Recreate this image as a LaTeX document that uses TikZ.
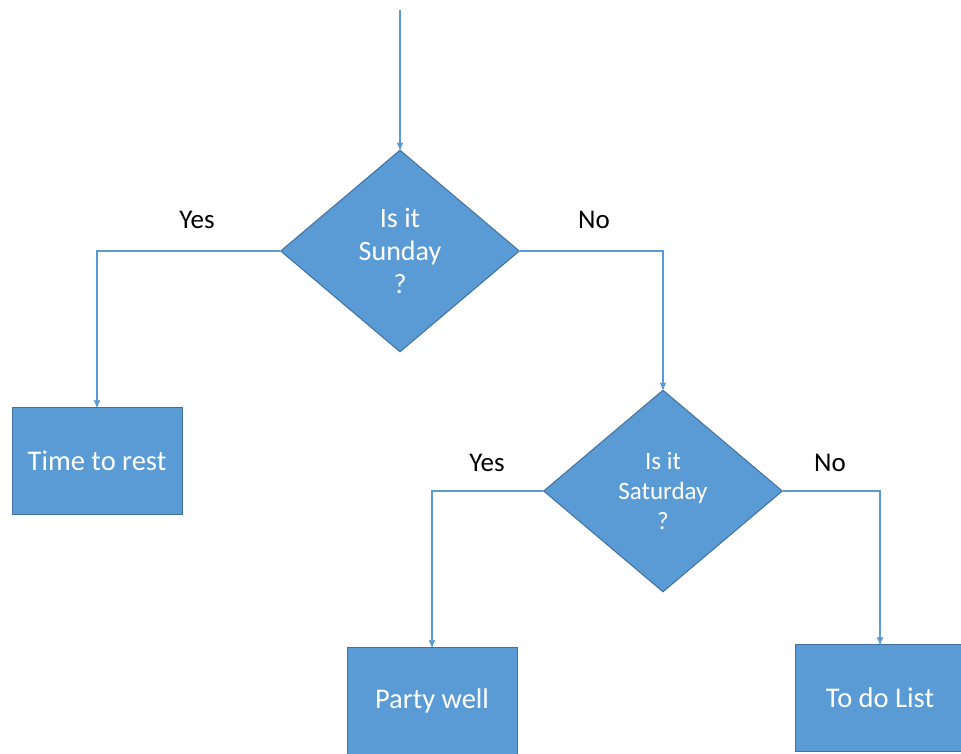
\documentclass[tikz,border=0pt]{standalone}
\usepackage{fontspec}
\setmainfont{Carlito}
\usetikzlibrary{arrows,shapes.geometric}
\definecolor{officeblue}{HTML}{5B9BD5}
\definecolor{officeedge}{HTML}{41719C}

\begin{document}
\begin{tikzpicture}
[
	          x = 1pt, y = -1pt,
	         >= stealth',
	 line width = 1.4pt,
	  decision/.style = { diamond, draw=officeedge, line width=1pt, fill=officeblue, text=white,
	                      minimum width=239pt, minimum height=202pt, inner sep=0pt, align=center },
	    action/.style = { rectangle, draw=officeedge, line width=1pt, fill=officeblue, text=white,
	                      minimum width=170pt, minimum height=107pt, font=\fontsize{28.5}{34}\selectfont },
	    answer/.style = { font=\fontsize{27}{32}\selectfont },
	      flow/.style = { draw=officeblue, -> }
]
	\useasboundingbox (0,0) rectangle (961,753);
	\clip (0,0) rectangle (961,753);

	% nodes
	\coordinate (start) at (400,10);
	\node (sun) at (400,251)  [decision, font=\fontsize{28}{33}\selectfont] {Is it\\Sunday\\?};
	\node (sat) at (663,491)  [decision, font=\fontsize{25}{30}\selectfont] {Is it\\Saturday\\?};

	\node (rest)  at (97,461)   [action] {Time to rest};
	\node (party) at (432,701)  [action] {Party well};
	\node (todo)  at (880,698)  [action] {To do List};

	\node (sunyes) at (197,220) [answer] {Yes};
	\node (sunno)  at (594,220) [answer] {No};
	\node (satyes) at (487,463) [answer] {Yes};
	\node (satno)  at (830,463) [answer] {No};

	% edges
	\draw [flow] (start) -- (sun.north);
	\draw [flow] (sun.west) -| (rest.north);
	\draw [flow] (sun.east) -| (sat.north);
	\draw [flow] (sat.west) -| (party.north);
	\draw [flow] (sat.east) -| (todo.north);

\end{tikzpicture}
\end{document}
